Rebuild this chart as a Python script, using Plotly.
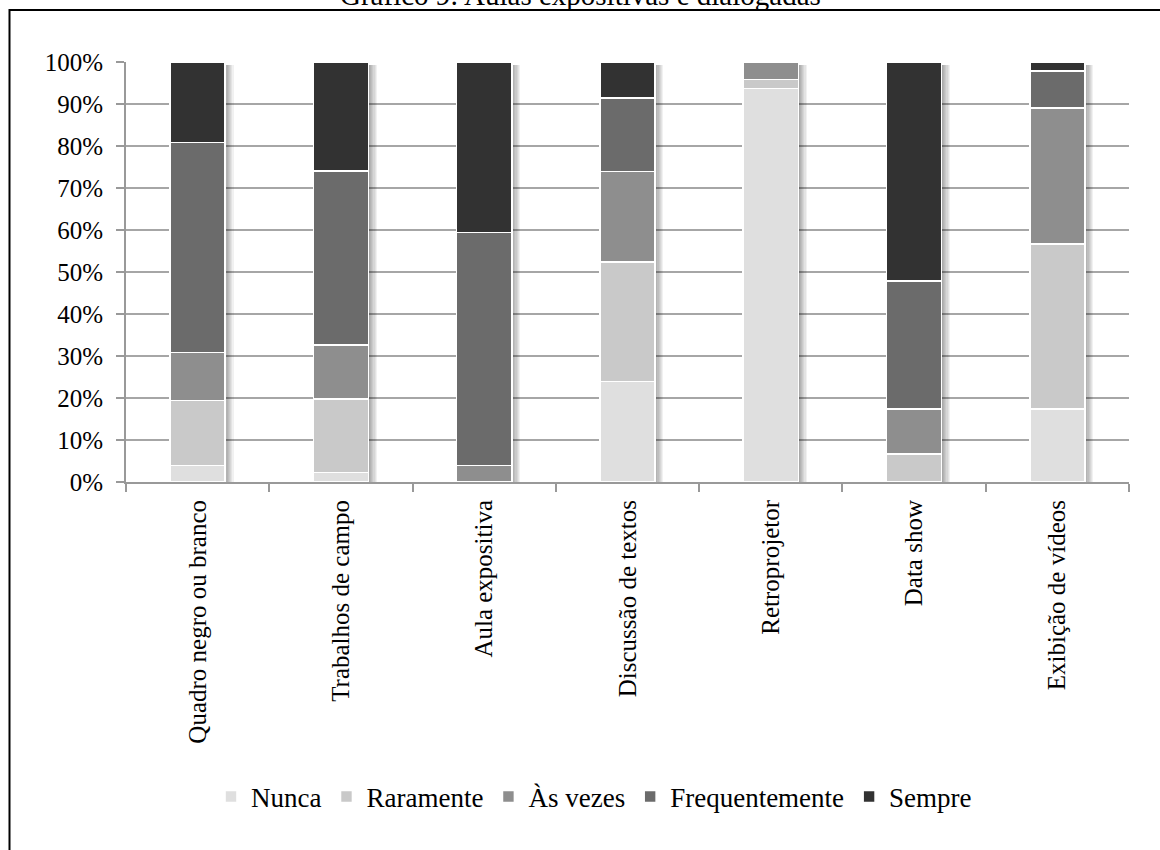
import plotly.graph_objects as go

# Survey answers per teaching resource (percent of respondents)
categories = [
    "Quadro negro ou branco",
    "Trabalhos de campo",
    "Aula expositiva",
    "Discussão de textos",
    "Retroprojetor",
    "Data show",
    "Exibição de vídeos",
]
series_names = ["Nunca", "Raramente", "Às vezes", "Frequentemente", "Sempre"]
nunca = [3.9, 2.3, 0.0, 23.9, 93.7, 0.0, 17.4]
raramente = [15.5, 17.4, 0.0, 28.5, 2.1, 6.7, 39.2]
as_vezes = [11.4, 12.9, 3.9, 21.5, 4.2, 10.7, 32.5]
frequentemente = [50.0, 41.4, 55.5, 17.5, 0.0, 30.5, 8.8]
sempre = [19.2, 26.0, 40.6, 8.6, 0.0, 52.1, 2.1]
y_ticks = [0, 10, 20, 30, 40, 50, 60, 70, 80, 90, 100]
y_tick_text = [f"{t}%" for t in y_ticks]

values = [nunca, raramente, as_vezes, frequentemente, sempre]
colors = ["#dfdfdf", "#c9c9c9", "#8e8e8e", "#6b6b6b", "#323232"]
totals = [sum(v[i] for v in values) for i in range(len(categories))]

SERIF = "Liberation Serif, Times New Roman, serif"
W, H = 1160, 850
L, R, T, B = 126, 31, 62, 368
plot_w = W - L - R
plot_h = H - T - B
bar_w = 0.385
px = len(categories) / plot_w  # one pixel in category units

fig = go.Figure()

# soft drop shadow behind each stacked column
for k in range(1, 8):
    fig.add_trace(go.Bar(
        x=categories, y=[t * 0.992 for t in totals], base=[0] * len(categories),
        width=bar_w, offset=-bar_w / 2 + k * 1.2 * px,
        marker=dict(color="rgba(0,0,0,0.055)", line=dict(width=0)),
        showlegend=False, hoverinfo="skip",
    ))

for name, vals, col in zip(series_names, values, colors):
    fig.add_trace(go.Bar(
        x=categories, y=vals, name=name, width=bar_w,
        marker=dict(color=col, line=dict(color="white", width=1.6)),
    ))

def px_to_paper_x(p):
    return (p - L) / plot_w

def px_to_paper_y(p):
    return (H - B - p) / plot_h

fig.update_layout(
    width=W, height=H,
    barmode="stack",
    paper_bgcolor="white",
    plot_bgcolor="white",
    margin=dict(l=L, r=R, t=T, b=B, autoexpand=False),
    font=dict(family=SERIF, size=25, color="black"),
    showlegend=True,
    legend=dict(
        orientation="h",
        x=px_to_paper_x(594), xanchor="center",
        y=px_to_paper_y(797), yanchor="middle",
        font=dict(family=SERIF, size=27, color="black"),
        itemwidth=30,
        traceorder="normal",
        bgcolor="rgba(0,0,0,0)",
    ),
    xaxis=dict(
        type="category",
        tickangle=-90,
        ticks="outside", ticklen=8, tickwidth=2, tickcolor="#999999",
        tickson="boundaries",
        showline=True, linecolor="#999999", linewidth=2,
        showgrid=False,
        ticklabelstandoff=6,
        tickfont=dict(family=SERIF, size=25, color="black"),
    ),
    yaxis=dict(
        range=[0, 100],
        tickvals=y_ticks, ticktext=y_tick_text,
        ticks="outside", ticklen=8, tickwidth=2, tickcolor="#999999",
        showline=True, linecolor="#999999", linewidth=2,
        showgrid=True, gridcolor="#a6a6a6", gridwidth=2,
        zeroline=False,
        ticklabelstandoff=8,
        tickfont=dict(family=SERIF, size=25, color="black"),
    ),
    shapes=[dict(
        type="rect", xref="paper", yref="paper",
        x0=px_to_paper_x(9.5), x1=px_to_paper_x(1175),
        y0=px_to_paper_y(10), y1=px_to_paper_y(870),
        line=dict(color="black", width=2), fillcolor="rgba(0,0,0,0)",
        layer="below",
    )],
    annotations=[dict(
        text="Gráfico 9: Aulas expositivas e dialogadas",
        xref="paper", yref="paper",
        x=px_to_paper_x(580), xanchor="center",
        y=px_to_paper_y(-5), yanchor="middle",
        showarrow=False,
        font=dict(family=SERIF, size=29, color="black"),
    )],
)

fig.write_html("out.html")
